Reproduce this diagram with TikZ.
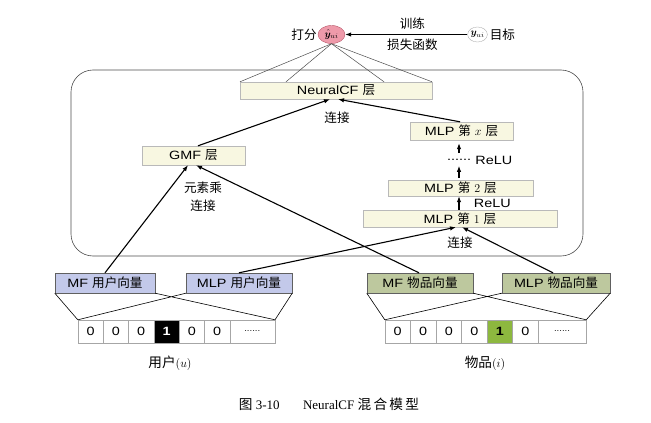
\documentclass[tikz,border=0pt]{standalone}
\usepackage[no-math]{fontspec}
\usepackage{bm}
\setmainfont[FakeStretch=1.2]{Liberation Sans}
\newfontfamily\cjk[Scale=1.05]{Noto Sans CJK SC}
\newfontfamily\capfont{Liberation Serif}
\usetikzlibrary{arrows.meta,positioning,shapes.geometric}
\newcommand\zh[1]{{\cjk #1}}
\definecolor{layerfill}{HTML}{F8F7E1}
\definecolor{userfill}{HTML}{C3C9EA}
\definecolor{itemfill}{HTML}{BDC89E}
\definecolor{hitfill}{HTML}{8DB83F}
\definecolor{scorefill}{HTML}{EE9AAA}
\definecolor{scoreedge}{HTML}{B8586A}
\begin{document}
\begin{tikzpicture}[x=1pt,y=-1pt,
    font=\fontsize{12}{14}\selectfont,
    layer/.style={draw=gray!55,fill=layerfill,inner sep=0pt,minimum height=17pt},
    embed/.style={draw=gray!75!black,inner sep=0pt,minimum height=20pt},
    cell/.style={draw=gray!70,inner sep=0pt,minimum height=23pt,minimum width=25.3pt},
    hitu/.style={fill=black,text=white,font=\fontsize{12}{14}\selectfont\bfseries},
    hiti/.style={fill=hitfill,font=\fontsize{12}{14}\selectfont\bfseries},
    feed/.style={-{Latex[length=6pt,width=4.5pt]},line width=1.1pt},
    fan/.style={gray!60!black,line width=0.5pt},
    tie/.style={black,line width=0.6pt}]
  \useasboundingbox (0,0) rectangle (651,423);
  % the hidden part
  \draw[gray!60!black,line width=0.6pt,rounded corners=22pt] (71,70) rectangle (583,256);
  % score and target
  \node[ellipse,draw=scoreedge,fill=scorefill,minimum width=27pt,minimum height=18pt,inner sep=0pt,font=\fontsize{10}{12}\selectfont] (yhat) at (331.5,34.5) {$\hat{\bm y}_{ui}$};
  \node[left=1pt of yhat,inner sep=0pt] (score) {\zh{打分}};
  \node[ellipse,draw=gray!60,minimum width=19pt,minimum height=15pt,inner sep=0pt,font=\fontsize{10}{12}\selectfont] (ytrue) at (477.5,34.5) {$\bm y_{ui}$};
  \node[right=2pt of ytrue,inner sep=0pt] (target) {\zh{目标}};
  \draw[feed] (ytrue) -- (yhat)
    node[pos=0.45,above=1pt] {\zh{训练}}
    node[pos=0.45,below=1pt] {\zh{损失函数}};
  % layers
  \node[layer,minimum width=192pt] (ncf) at (336,90.5) {NeuralCF \zh{层}};
  \node[layer,minimum width=103pt,minimum height=19pt] (gmf) at (193.5,155.5) {GMF \zh{层}};
  \node[layer,minimum width=103pt,minimum height=18pt] (mlpx) at (461.5,131) {MLP \zh{第} $x$ \zh{层}};
  \node[layer,minimum width=145pt,minimum height=16pt] (mlp2) at (460.5,188) {MLP \zh{第} $2$ \zh{层}};
  \node[layer,minimum width=194pt] (mlp1) at (460,218.5) {MLP \zh{第} $1$ \zh{层}};
  \node[inner sep=0pt] (dots) at (459,160) {......};
  \node[right=4pt of dots,inner sep=0pt] (relux) {ReLU};
  \foreach \s in {-96,-50,48,96}
    \draw[fan] ([xshift=\s pt]ncf.north) -- (yhat.south);
  \draw[feed] ([xshift=4.5pt]gmf.north) -- ([xshift=-6pt]ncf.south);
  \draw[feed] ([xshift=-1.5pt]mlpx.north) -- ([xshift=2pt]ncf.south);
  \path (337,118) node {\zh{连接}};
  \draw[feed,shorten <=2pt,shorten >=5pt] ([xshift=-1.5pt]mlp2.north) -- (dots.south);
  \draw[feed,shorten <=6pt,shorten >=3pt] (dots.north) -- ([xshift=-2.5pt]mlpx.south);
  \draw[feed] ([xshift=-1pt]mlp1.north) -- ([xshift=-1.5pt]mlp2.south)
    node[midway,right=11pt] {ReLU};
  % embeddings
  \node[embed,fill=userfill,minimum width=100pt] (mfu) at (105,283) {MF \zh{用户向量}};
  \node[embed,fill=userfill,minimum width=106pt] (mlpu) at (239,283) {MLP \zh{用户向量}};
  \node[embed,fill=itemfill,minimum width=106pt] (mfi) at (420,283) {MF \zh{物品向量}};
  \node[embed,fill=itemfill,minimum width=108pt] (mlpi) at (556,283) {MLP \zh{物品向量}};
  \draw[feed] (mfu.north) -- ([xshift=-5.5pt]gmf.south);
  \draw[feed] ([xshift=-1pt]mfi.north) -- ([xshift=2.5pt]gmf.south);
  \path (203,197) node[align=center,font=\fontsize{12}{18}\selectfont] {\zh{元素乘}\\\zh{连接}};
  \draw[feed] (mlpu.north) -- ([xshift=-4pt]mlp1.south);
  \draw[feed] ([xshift=-3pt]mlpi.north) -- ([xshift=2pt]mlp1.south);
  \path (460,243) node {\zh{连接}};
  % one-hot inputs
  \foreach \v/\s [count=\k] in {0/,0/,0/,1/hitu,0/,0/}
    \node[cell,\s] (u\k) at ({78+25.3*(\k-0.5)},331.5) {\v};
  \node[cell,minimum width=45pt,font=\footnotesize] (u7) at (252.3,331.5) {......};
  \foreach \v/\s [count=\k] in {0/,0/,0/,0/,1/hiti,0/}
    \node[cell,minimum width=25.5pt,\s] (i\k) at ({385+25.5*(\k-0.5)},331.5) {\v};
  \node[cell,minimum width=48pt,font=\footnotesize] (i7) at (562,331.5) {......};
  \draw[tie] (mfu.south west) -- (u1.north west) (mfu.south east) -- (u7.north east)
             (mlpu.south west) -- (u1.north west) (mlpu.south east) -- (u7.north east);
  \draw[tie] (mfi.south west) -- (i1.north west) (mfi.south east) -- (i7.north east)
             (mlpi.south west) -- (i1.north west) (mlpi.south east) -- (i7.north east);
  \path (170,363) node[font=\fontsize{13}{15}\selectfont] {\zh{用户}$(u)$};
  \path (485,363) node[font=\fontsize{13}{15}\selectfont] {\zh{物品}$(i)$};
  % caption
  \path (329,404) node[font=\capfont\fontsize{13}{15}\selectfont] {\zh{图}~3-10\hspace{1.8em}NeuralCF~\zh{混\,合\,模\,型}};
\end{tikzpicture}
\end{document}
